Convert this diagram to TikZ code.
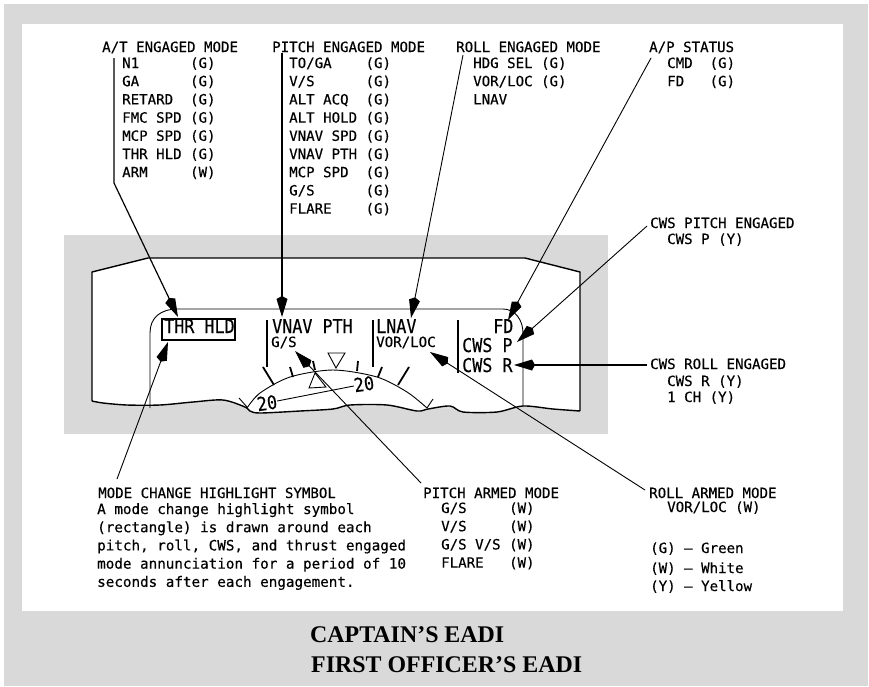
\documentclass[tikz,border=0pt]{standalone}
\usepackage{fontspec}
\usepackage{tikz}
\usetikzlibrary{arrows.meta}
\setmainfont{Liberation Serif}
\newfontfamily\monofamily[FakeBold=0.35]{DejaVu Sans Mono}
\newfontfamily\eadifamily[FakeStretch=0.88,FakeBold=0.25]{DejaVu Sans Mono}
\definecolor{paneGray}{HTML}{D9D9D9}

\begin{document}
\begin{tikzpicture}[
    x=1pt, y=-1pt,
    label/.style={anchor=base west, inner sep=0pt, align=left, font=\monofamily\fontsize{14.1}{18.2}\selectfont},
    eadi/.style={anchor=base west, inner sep=0pt, font=\eadifamily\fontsize{19}{19}\selectfont},
    caption/.style={anchor=base west, inner sep=0pt, font=\bfseries\fontsize{23.9}{28}\selectfont},
    leader/.style={-{Kite[length=21pt,width=11pt,inset=3pt]}, line width=0.9pt},
    heavyleader/.style={leader, line width=1.6pt},
    bar/.style={line width=1.6pt},
    tick/.style={line width=1.8pt},
    fine/.style={line width=0.9pt}
  ]
    \useasboundingbox (0,0) rectangle (869,686);
    \fill[paneGray] (4,4) rectangle (868,686);
    \fill[white] (22,24) rectangle (843,611);
    \fill[paneGray] (64,235) rectangle (608,434);

    \draw[fill=white, line width=1.4pt, line join=round] (92,401) -- (92,272) -- (148,258) -- (525,258) -- (580,272) -- (580,411)
      plot[smooth, tension=0.5] coordinates {(580,411) (553,409) (523,406) (497,412) (463,412) (450,406) (428,409) (417,411) (387,405) (350,405) (333,409) (300,411) (260,413) (250,411) (245,407) (223,400) (193,402) (160,405) (127,405) (103,403) (92,401)};

    \draw[fine] (150,408) -- (150,333) .. controls (150,318) and (160,309) .. (178,309) -- (503,309) .. controls (515,309) and (523,320) .. (523,333) -- (523,406);
    \draw[fine] plot[smooth] coordinates {(247,408) (260,393) (290,377) (333,370) (377,377) (407,392) (427,408)};
    \draw[fine] (239,398) -- (247,407);
    \draw[fine] (433,399) -- (427,408);
    \draw[tick] (263,367) -- (274,385);
    \draw[tick] (290,367) -- (293,377);
    \draw[tick] (313,361) -- (315,370);
    \draw[tick] (358,361) -- (357,371);
    \draw[tick] (382,367) -- (378,377);
    \draw[tick] (409,367) -- (398,385);
    \draw[fine] (328,353) -- (345,353) -- (336,368) -- cycle;
    \draw[fine] (309,388) -- (315,373) -- (326,387) -- cycle;
    \node[eadi, anchor=center, rotate=8] (twentyl) at (267,403) {20};
    \node[eadi, anchor=center, rotate=8] (twentyr) at (364,384) {20};
    \draw[fine] (twentyl) -- (twentyr);

    \draw[bar] (267,320) -- (267,367);
    \draw[bar] (373,320) -- (373,367);
    \draw[bar] (458,320) -- (458,373);
    \node[draw, line width=1.6pt, minimum width=73pt, minimum height=21pt, inner sep=0pt] (holdbox) at (198.5,329.5) {};
    \node[eadi] (thrhld) at (164,333) {THR HLD};
    \node[eadi] (vnavpth) at (272,333) {VNAV PTH};
    \node[eadi] (lnav) at (376,333) {LNAV};
    \node[eadi] (fd) at (493,333) {FD};
    \node[eadi] (cwsp) at (462,352) {CWS P};
    \node[eadi] (cwsr) at (462,372) {CWS R};
    \node[label] (gs) at (271,347) {G/S};
    \node[label] (vorloc) at (376,347) {VOR/LOC};

    \node[label] (attitle) at (102,52) {A/T ENGAGED MODE};
    \node[label] (atlist) at (122,177.2) {N1~~~~~~(G)\\GA~~~~~~(G)\\RETARD~~(G)\\FMC SPD (G)\\MCP SPD (G)\\THR HLD (G)\\ARM~~~~~(W)};
    \node[label] (pitchtitle) at (272,52) {PITCH ENGAGED MODE};
    \node[label] (pitchlist) at (289,213.6) {TO/GA~~~~(G)\\V/S~~~~~~(G)\\ALT ACQ~~(G)\\ALT HOLD (G)\\VNAV SPD (G)\\VNAV PTH (G)\\MCP SPD~~(G)\\G/S~~~~~~(G)\\FLARE~~~~(G)};
    \node[label] (rolltitle) at (456,52) {ROLL ENGAGED MODE};
    \node[label] (rolllist) at (473,104.4) {HDG SEL (G)\\VOR/LOC (G)\\LNAV};
    \node[label] (aptitle) at (649,52) {A/P STATUS};
    \node[label] (aplist) at (667,86.2) {CMD~~(G)\\FD~~~(G)};
    \node[label] (cwsptitle) at (650,228) {CWS PITCH ENGAGED};
    \node[label] (cwsplist) at (667,244) {CWS P (Y)};
    \node[label] (cwsrtitle) at (650,369) {CWS ROLL ENGAGED};
    \node[label] (cwsrlist) at (667,386) {CWS R (Y)};
    \node[label] (onech) at (667,402) {1 CH (Y)};
    \node[label] (hightitle) at (98,498) {MODE CHANGE HIGHLIGHT SYMBOL};
    \node[label, font=\monofamily\fontsize{14.25}{18.2}\selectfont] (highbody) at (97,586.8) {A mode change highlight symbol\\(rectangle) is drawn around each\\pitch, roll, CWS, and thrust engaged\\mode annunciation for a period of 10\\seconds after each engagement.};
    \node[label] (armtitle) at (423,498) {PITCH ARMED MODE};
    \node[label] (armlist) at (441,567.6) {G/S~~~~~(W)\\V/S~~~~~(W)\\G/S V/S (W)\\FLARE~~~(W)};
    \node[label] (rarmtitle) at (649,498) {ROLL ARMED MODE};
    \node[label] (rarmlist) at (667,512) {VOR/LOC (W)};
    \node[label] (keyg) at (650,553) {(G) – Green};
    \node[label] (keyw) at (650,573) {(W) – White};
    \node[label] (keyy) at (650,591) {(Y) – Yellow};
    \node[caption] (capt) at (310,642) {CAPTAIN’S EADI};
    \node[caption] (fo) at (311,672) {FIRST OFFICER’S EADI};

    \coordinate (atfrom) at (114,58);
    \coordinate (atbend) at (114,183);
    \coordinate (atend) at (178,317);
    \coordinate (pitchfrom) at (282,53);
    \coordinate (pitchend) at (282,317);
    \coordinate (rollfrom) at (463,55);
    \coordinate (rollend) at (411,318);
    \coordinate (apfrom) at (651,58);
    \coordinate (apend) at (508,320);
    \coordinate (cwspfrom) at (647,226);
    \coordinate (cwspend) at (517,342);
    \coordinate (cwsrfrom) at (647,365);
    \coordinate (cwsrend) at (514,365);
    \coordinate (highfrom) at (117,479);
    \coordinate (highend) at (168,342);
    \coordinate (armfrom) at (421,483);
    \coordinate (armend) at (295,351);
    \coordinate (rarmfrom) at (645,490);
    \coordinate (rarmend) at (430,352);
    \draw[leader, line width=1.2pt] (atfrom) -- (atbend) -- (atend);
    \draw[heavyleader] (pitchfrom) -- (pitchend);
    \draw[leader] (rollfrom) -- (rollend);
    \draw[leader] (apfrom) -- (apend);
    \draw[leader] (cwspfrom) -- (cwspend);
    \draw[heavyleader] (cwsrfrom) -- (cwsrend);
    \draw[leader] (highfrom) -- (highend);
    \draw[leader] (armfrom) -- (armend);
    \draw[leader] (rarmfrom) -- (rarmend);
  \end{tikzpicture}
\end{document}
